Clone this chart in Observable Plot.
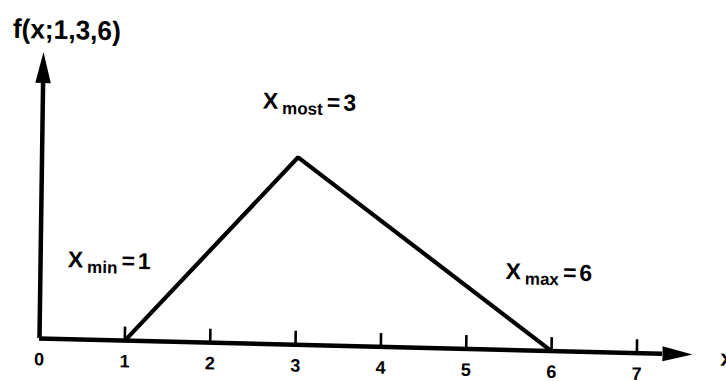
<!DOCTYPE html>
<html>
<head>
<meta charset="utf-8">
<script src="https://cdn.jsdelivr.net/npm/d3@7"></script>
<script src="https://cdn.jsdelivr.net/npm/@observablehq/plot@0.6"></script>
<style>
  html, body { margin: 0; padding: 0; background: #fff; overflow: hidden; }
  #chart svg { display: block; }
</style>
</head>
<body>
<div id="chart"></div>
<script>
// Triangular distribution f(x; min, most, max)
const paramNames = ["min", "most", "max"];
const paramValues = [1, 3, 6];
const densityValues = [0, 0.4, 0];

// Axis ticks and labels
const xTicks = [1, 2, 3, 4, 5, 6, 7];
const xTickLabels = [0, 1, 2, 3, 4, 5, 6, 7];
const xAxisEnd = 7.3;   // where the x arrowhead starts
const yAxisEnd = 0.545; // where the y arrowhead starts
const xName = "x";
const yName = "f(x;1,3,6)";

const ink = "#000";
const sans = "'Liberation Sans', Arial, sans-serif";

// Filled, elongated arrowhead: base centred on the point, tip ahead of it
const arrowHead = {
  draw(context, size) {
    const r = Math.sqrt(size / Math.PI);
    context.moveTo(0, -2 * r);
    context.lineTo(0.5 * r, 0);
    context.lineTo(-0.5 * r, 0);
    context.closePath();
  }
};

// Tick mark standing up from the axis
const upTick = {
  draw(context, size) {
    const r = Math.sqrt(size / Math.PI);
    context.moveTo(0, 0);
    context.lineTo(0, -r);
  }
};

const triangle = paramValues.map((v, i) => ({x: v, y: densityValues[i]}));

// Offsets of each vertex label from its vertex
const labelOffsets = [[-58, -72], [-36, -48], [-47, -71]];

const labelMarks = paramValues.map((v, i) =>
  Plot.text([i], {
    x: () => v,
    y: () => densityValues[i],
    text: () => "X",
    dx: labelOffsets[i][0],
    dy: labelOffsets[i][1],
    textAnchor: "start",
    lineAnchor: "bottom",
    fontSize: 23,
    fontWeight: "bold",
    fill: ink
  })
);

const chart = Plot.plot({
  width: 726,
  height: 381,
  marginLeft: 39,
  marginRight: 0,
  marginTop: 0,
  marginBottom: 43,
  x: {domain: [0, 8.05], axis: null},
  y: {domain: [0, 0.721], axis: null},
  style: {background: "#fff", fontFamily: sans, overflow: "visible"},
  marks: [
    // axes
    Plot.ruleY([0], {x1: 0, x2: xAxisEnd, stroke: ink, strokeWidth: 4.5}),
    Plot.ruleX([0], {y1: 0, y2: yAxisEnd, stroke: ink, strokeWidth: 4.5}),
    Plot.dot([0], {x: xAxisEnd, y: 0, symbol: arrowHead, r: 15, rotate: 90, fill: ink, stroke: "none"}),
    Plot.dot([0], {x: 0, y: yAxisEnd, symbol: arrowHead, r: 15.5, rotate: 0, fill: ink, stroke: "none"}),
    Plot.dot(xTicks, {x: d => d, y: 0, symbol: upTick, r: 14, fill: "none", stroke: ink, strokeWidth: 2.6}),
    Plot.text(xTickLabels, {
      x: d => d, y: 0, text: d => String(d), dy: 21,
      lineAnchor: "middle", fontSize: 18, fontWeight: "bold", fill: ink
    }),
    Plot.text([xName], {
      x: xAxisEnd, y: 0, text: d => d, dx: 58, dy: 3,
      textAnchor: "start", lineAnchor: "middle", fontSize: 23, fontWeight: "bold", fill: ink
    }),
    Plot.text([yName], {
      frameAnchor: "top-left", text: d => d, dx: -31, dy: 38,
      textAnchor: "start", lineAnchor: "bottom", fontSize: 27, fontWeight: "bold", fill: ink
    }),
    // the density
    Plot.line(triangle, {x: "x", y: "y", stroke: ink, strokeWidth: 4.2, strokeLinejoin: "miter", strokeLinecap: "butt"}),
    ...labelMarks
  ]
});

// Subscripted parameter names: X_min = 1, X_most = 3, X_max = 6
d3.select(chart).selectAll("text")
  .filter(function() { return this.textContent === "X"; })
  .each(function(_, i) {
    const t = d3.select(this);
    t.append("tspan").attr("dx", 4).attr("dy", 5).attr("font-size", 17).text(paramNames[i]);
    t.append("tspan").attr("dx", 4).attr("dy", -5).text("=");
    t.append("tspan").attr("dx", 3).text(String(paramValues[i]));
  });

// Condensed lettering for the function name
d3.select(chart).selectAll("text")
  .filter(function() { return this.textContent === yName; })
  .attr("textLength", 108)
  .attr("lengthAdjust", "spacingAndGlyphs");

// The drawing sits slightly askew on the page
chart.style.transformOrigin = "39px 338px";
chart.style.transform = "matrix(1, 0.0246, -0.014, 1, 0, 0)";

document.getElementById("chart").append(chart);
</script>
</body>
</html>
